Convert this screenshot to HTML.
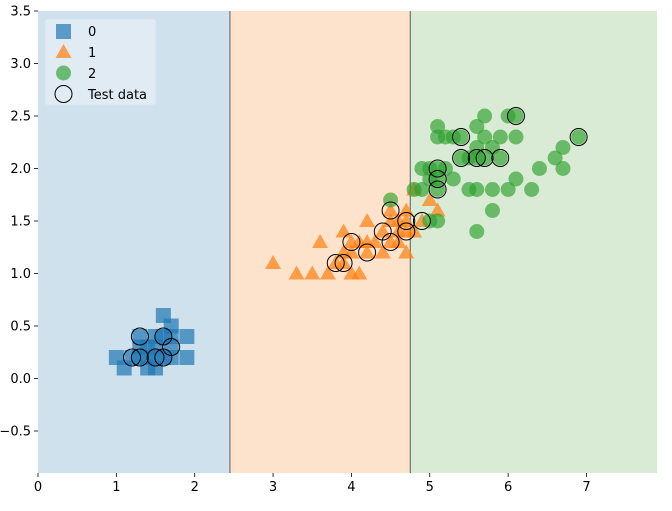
<!DOCTYPE html>
<html><head><meta charset="utf-8"><style>
body{margin:0;background:#fff;font-family:"Liberation Sans","DejaVu Sans",sans-serif;}
svg text{font-family:"DejaVu Sans","Liberation Sans",sans-serif;font-size:13px;fill:#000}
</style></head><body>
<svg id="c" width="672" height="506" xmlns="http://www.w3.org/2000/svg"></svg>
<script>
const xTicks=[0,1,2,3,4,5,6,7];
const yTicks=[-0.5,0,0.5,1,1.5,2,2.5,3,3.5];
const boundaries=[2.45,4.75];
const class0=[[1.4,0.2],[1.3,0.2],[1.5,0.2],[1.7,0.4],[1.4,0.3],[1.5,0.1],[1.6,0.2],[1.4,0.1],[1.1,0.1],[1.2,0.2],[1.5,0.4],[1.3,0.4],[1.7,0.3],[1.5,0.3],[1.7,0.2],[1.0,0.2],[1.7,0.5],[1.9,0.2],[1.6,0.4],[1.3,0.3],[1.6,0.6],[1.9,0.4]];
const class1=[[4.7,1.4],[4.5,1.5],[4.9,1.5],[4.0,1.3],[4.6,1.5],[4.5,1.3],[4.7,1.6],[3.3,1.0],[4.6,1.3],[3.9,1.4],[3.5,1.0],[4.2,1.5],[4.0,1.0],[3.6,1.3],[4.4,1.4],[4.1,1.0],[3.9,1.1],[4.8,1.8],[4.7,1.2],[4.3,1.3],[4.8,1.4],[5.0,1.7],[3.8,1.1],[3.7,1.0],[3.9,1.2],[5.1,1.6],[4.5,1.6],[4.7,1.5],[4.1,1.3],[4.4,1.2],[4.6,1.4],[4.0,1.2],[4.2,1.3],[4.2,1.2],[3.0,1.1]];
const class2=[[6.0,2.5],[5.1,1.9],[5.9,2.1],[5.6,1.8],[5.8,2.2],[6.6,2.1],[4.5,1.7],[6.3,1.8],[5.8,1.8],[6.1,2.5],[5.1,2.0],[5.3,1.9],[5.5,2.1],[5.0,2.0],[5.1,2.4],[5.3,2.3],[5.5,1.8],[6.7,2.2],[6.9,2.3],[5.0,1.5],[5.7,2.3],[4.9,2.0],[6.7,2.0],[4.9,1.8],[5.7,2.1],[6.0,1.8],[4.8,1.8],[5.6,2.1],[5.8,1.6],[6.1,1.9],[6.4,2.0],[5.6,2.2],[5.1,1.5],[5.6,1.4],[6.1,2.3],[5.6,2.4],[5.4,2.1],[5.1,2.3],[5.9,2.3],[5.7,2.5],[5.2,2.3],[5.0,1.9],[5.2,2.0],[5.4,2.3],[5.1,1.8]];
const testData=[[1.3,0.4],[1.6,0.4],[1.7,0.3],[1.2,0.2],[1.3,0.2],[1.5,0.2],[1.6,0.2],[3.8,1.1],[3.9,1.1],[4.0,1.3],[4.2,1.2],[4.4,1.4],[4.5,1.3],[4.5,1.6],[4.7,1.5],[4.7,1.4],[4.9,1.5],[5.1,2.0],[5.1,1.9],[5.1,1.8],[5.4,2.3],[5.4,2.1],[5.6,2.1],[5.7,2.1],[5.9,2.1],[6.1,2.5],[6.9,2.3]];
const X0=38,X1=657,Y0=11,Y1=473,xmin=0,xmax=7.9,ymin=-0.9,ymax=3.5;
const sx=v=>X0+(v-xmin)/(xmax-xmin)*(X1-X0);
const sy=v=>Y1-(v-ymin)/(ymax-ymin)*(Y1-Y0);
const svg=document.getElementById('c');const NS='http://www.w3.org/2000/svg';
function mk(t,a,p){const e=document.createElementNS(NS,t);for(const k in a)e.setAttribute(k,a[k]);(p||svg).appendChild(e);return e;}
const regions=[[xmin,boundaries[0],'#d0e1ee'],[boundaries[0],boundaries[1],'#fee3cc'],[boundaries[1],xmax,'#d9ebd5']];
regions.forEach((r,i)=>{const e=mk('rect',{x:sx(r[0]),y:Y0,width:sx(r[1])-sx(r[0]),height:Y1-Y0,fill:r[2]});

});
boundaries.forEach(b=>{const e=mk('line',{x1:sx(b),x2:sx(b),y1:Y0,y2:Y1,stroke:'#222','stroke-width':0.7});

});
class0.forEach(p=>{const e=mk('rect',{x:sx(p[0])-7.5,y:sy(p[1])-7.5,width:15,height:15,fill:'#1f77b4','fill-opacity':0.7});

});
class1.forEach(p=>{const x=sx(p[0]),y=sy(p[1]);const e=mk('polygon',{points:`${x},${y-8} ${x-8},${y+6} ${x+8},${y+6}`,fill:'#ff7f0e','fill-opacity':0.7});

});
class2.forEach(p=>{const e=mk('circle',{cx:sx(p[0]),cy:sy(p[1]),r:7.5,fill:'#2ca02c','fill-opacity':0.65});

});
testData.forEach(p=>{const e=mk('circle',{cx:sx(p[0]),cy:sy(p[1]),r:8.5,fill:'none',stroke:'#000','stroke-width':1});

});
xTicks.forEach(t=>{const x=sx(t);mk('line',{x1:x,x2:x,y1:Y1,y2:Y1+4,stroke:'#000','stroke-width':0.8});
const e=mk('text',{x:x,y:Y1+18,'text-anchor':'middle'});e.textContent=t;

});
yTicks.forEach(t=>{const y=sy(t);mk('line',{x1:X0-4,x2:X0,y1:y,y2:y,stroke:'#000','stroke-width':0.8});
const e=mk('text',{x:X0-7,y:y+4.5,'text-anchor':'end'});e.textContent=t.toFixed(1).replace('-','−');

});
const g=mk('g',{});


mk('rect',{x:45,y:19,width:111,height:86,rx:3,fill:'#e0ebf4',stroke:'#d8e4ee'},g);
mk('rect',{x:56,y:24,width:15,height:15,fill:'#1f77b4','fill-opacity':0.7},g);
mk('polygon',{points:'63.5,44 55.5,58 71.5,58',fill:'#ff7f0e','fill-opacity':0.7},g);
mk('circle',{cx:63.5,cy:73,r:7.5,fill:'#2ca02c','fill-opacity':0.65},g);
mk('circle',{cx:63.5,cy:94,r:8.5,fill:'none',stroke:'#000'},g);
[['0',36],['1',57],['2',78],['Test data',99]].forEach(l=>{const e=mk('text',{x:88,y:l[1]},g);e.textContent=l[0];

});
</script>
</body></html>
